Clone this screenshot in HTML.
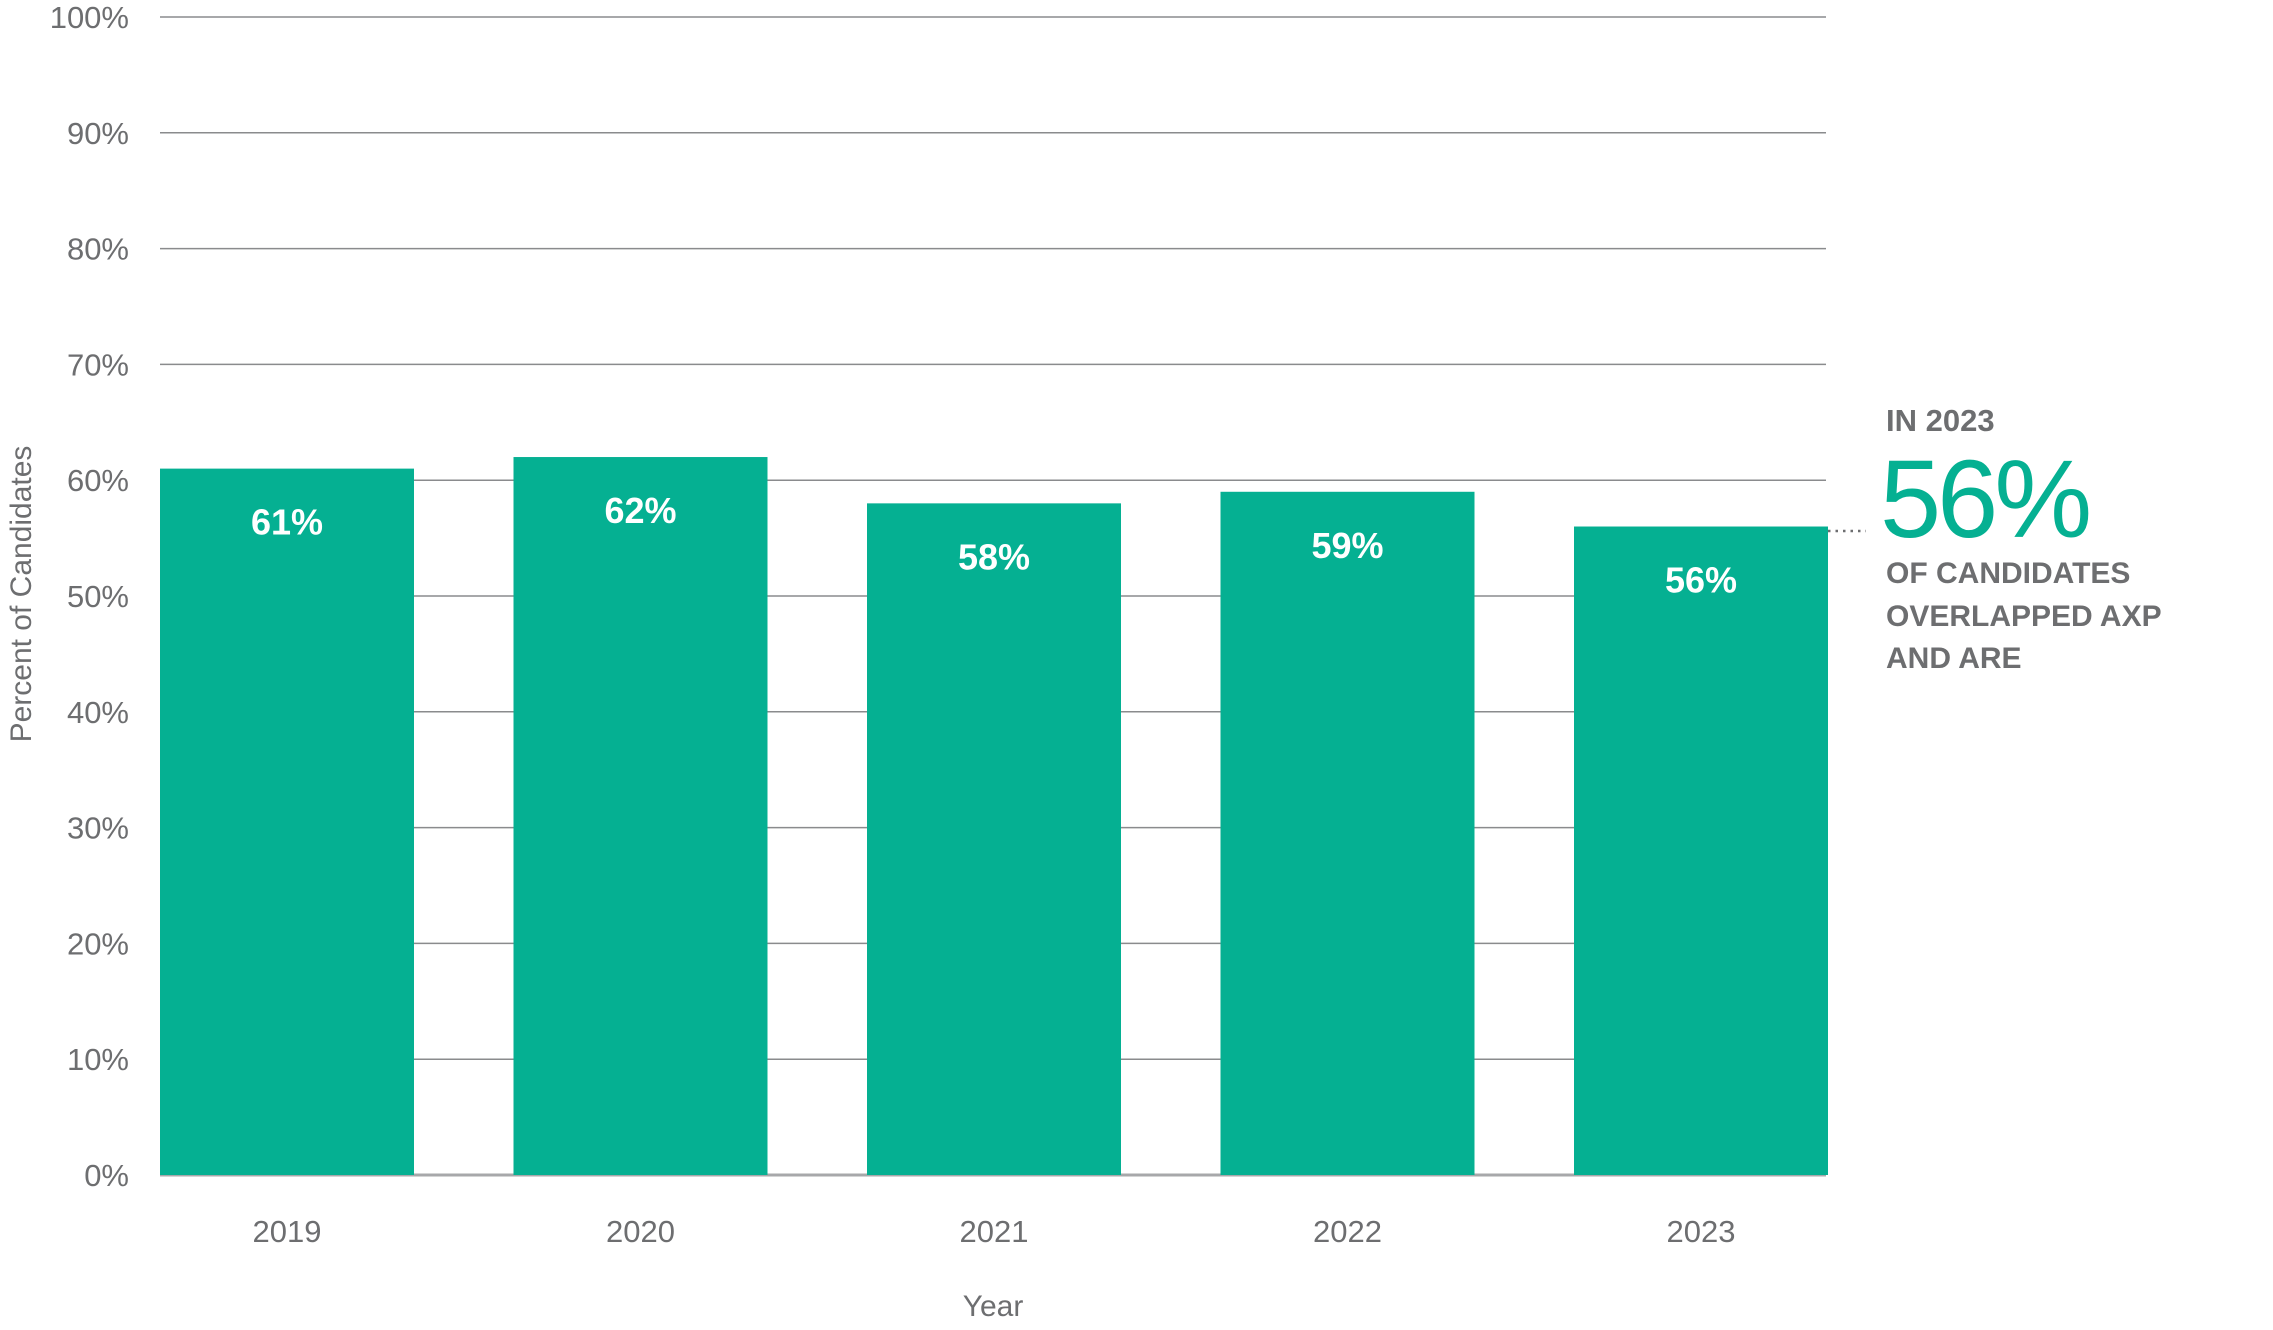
<!DOCTYPE html>
<html><head><meta charset="utf-8"><style>
html,body{margin:0;padding:0;background:#fff;}
svg{display:block;font-family:"Liberation Sans",sans-serif;}
</style></head><body>
<svg id="chart" width="2273" height="1330" viewBox="0 0 2273 1330" xmlns="http://www.w3.org/2000/svg">
<g id="grid"></g>
<g id="yticks"></g>
<g id="bars"></g>
<g id="xticks"></g>
<text transform="translate(31,594) rotate(-90)" text-anchor="middle" font-size="30" fill="#6d6e70">Percent of Candidates</text>
<text x="993" y="1316" text-anchor="middle" font-size="30" fill="#6d6e70">Year</text>
<g>
<line x1="1828" y1="531" x2="1866" y2="531" stroke="#6d6e70" stroke-width="2.5" stroke-dasharray="2.5,5"/>
<text x="1886" y="431" font-size="31" font-weight="bold" fill="#6d6e70">IN 2023</text>
<text x="1880" y="537" font-size="110" fill="#05b092" letter-spacing="-4">56%</text>
<text font-size="30" font-weight="bold" fill="#6d6e70">
<tspan x="1886" y="583">OF CANDIDATES</tspan>
<tspan x="1886" y="626">OVERLAPPED AXP</tspan>
<tspan x="1886" y="668">AND ARE</tspan>
</text>
</g>
</svg>
<script>
const categories = ["2019","2020","2021","2022","2023"];
const values = [61, 62, 58, 59, 56];
const valueLabels = ["61%","62%","58%","59%","56%"];
const tickValues = [0,10,20,30,40,50,60,70,80,90,100];
const tickLabels = ["0%","10%","20%","30%","40%","50%","60%","70%","80%","90%","100%"];

const NS = "http://www.w3.org/2000/svg";
const y0 = 1175, y100 = 17, left = 160, pitch = 353.5, barW = 254, gridRight = 1826;
function yScale(v){ return y0 - (y0 - y100) * v / 100; }
function xScale(i){ return left + i * pitch; }
function mk(tag, attrs, parent){ const e = document.createElementNS(NS, tag); for (const k in attrs) e.setAttribute(k, attrs[k]); parent.appendChild(e); return e; }

const grid = document.getElementById("grid");
const yt = document.getElementById("yticks");
tickValues.forEach((v, i) => {
  const y = yScale(v);
  const l = mk("line", {x1: left, x2: gridRight, y1: y, y2: y, stroke: v === 0 ? "#a7a8aa" : "#8a8b8d", "stroke-width": v === 0 ? 3 : 1.5}, grid);
  
  
  const t = mk("text", {x: 129, y: y + 11, "text-anchor": "end", "font-size": 31, fill: "#6d6e70"}, yt);
  
  
  t.textContent = tickLabels[i];
});

const bars = document.getElementById("bars");
const xt = document.getElementById("xticks");
categories.forEach((c, i) => {
  const x = xScale(i), y = yScale(values[i]);
  const r = mk("rect", {x: x, y: y, width: barW, height: y0 - y, fill: "#05b092"}, bars);
  
  
  const lbl = mk("text", {x: x + barW / 2, y: y + 66, "text-anchor": "middle", "font-size": 36, "font-weight": "bold", fill: "#ffffff"}, bars);
  
  
  lbl.textContent = valueLabels[i];
  const t = mk("text", {x: x + barW / 2, y: 1242, "text-anchor": "middle", "font-size": 31, fill: "#6d6e70"}, xt);
  
  
  t.textContent = c;
});
</script>
</body></html>
